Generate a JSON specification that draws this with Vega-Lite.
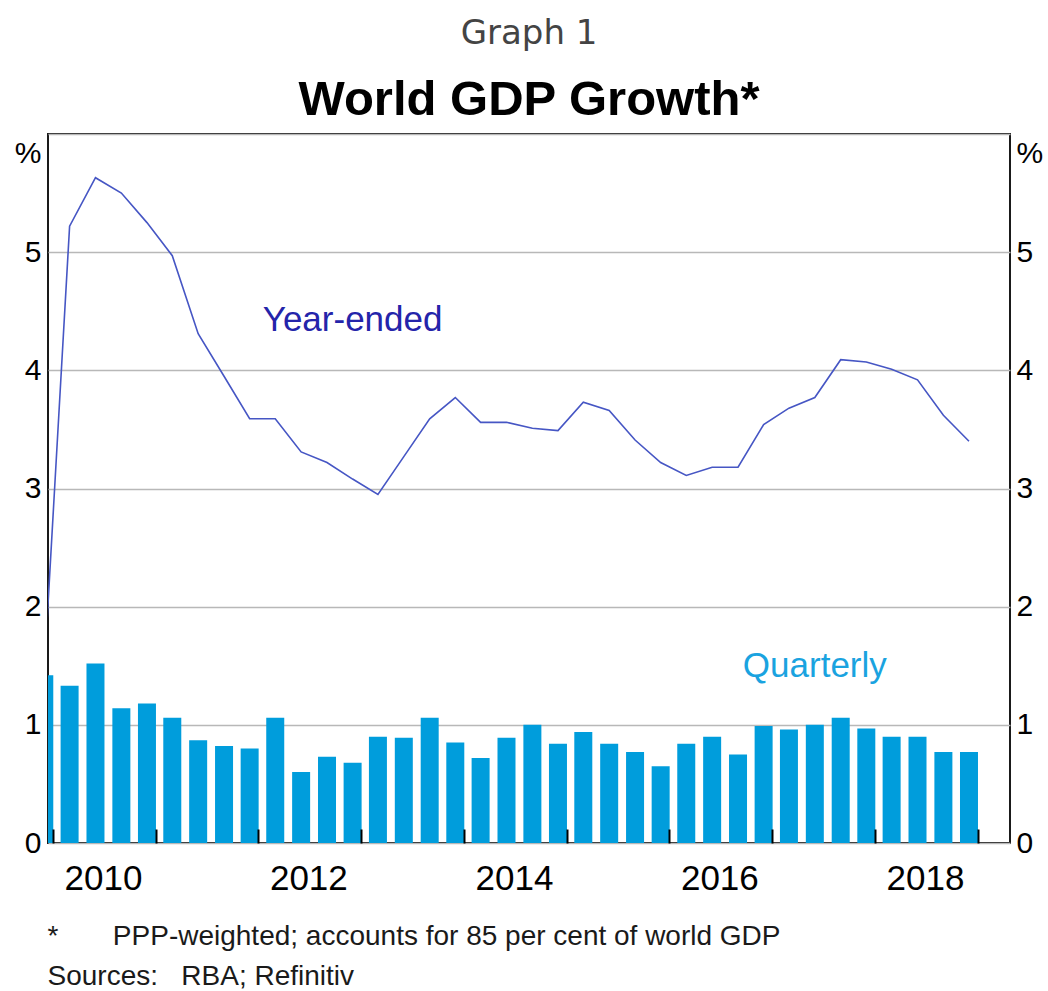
{
  "$schema": "https://vega.github.io/schema/vega-lite/v6.json",
  "width": 962,
  "height": 709,
  "autosize": "none",
  "padding": {"left": 48, "top": 134, "right": 38, "bottom": 148},
  "background": "white",
  "title": {
    "text": "Graph 1",
    "subtitle": "World GDP Growth*",
    "anchor": "middle",
    "frame": "group",
    "font": "DejaVu Sans",
    "fontSize": 34,
    "fontWeight": "normal",
    "color": "#444444",
    "subtitleFont": "Liberation Sans",
    "subtitleFontSize": 49,
    "subtitleFontWeight": "bold",
    "subtitleColor": "#000000",
    "subtitlePadding": 25,
    "offset": 9
  },
  "config": {
    "view": {"stroke": "#1a1a1a", "strokeWidth": 2},
    "axis": {"labelFont": "Liberation Sans", "labelColor": "#000000", "titleFont": "Liberation Sans"}
  },
  "datasets": {
    "quarterly": [
      {"date": "2009-12-01", "growth": 1.42},
      {"date": "2010-03-01", "growth": 1.33},
      {"date": "2010-06-01", "growth": 1.52},
      {"date": "2010-09-01", "growth": 1.14},
      {"date": "2010-12-01", "growth": 1.18},
      {"date": "2011-03-01", "growth": 1.06},
      {"date": "2011-06-01", "growth": 0.87},
      {"date": "2011-09-01", "growth": 0.82},
      {"date": "2011-12-01", "growth": 0.80},
      {"date": "2012-03-01", "growth": 1.06},
      {"date": "2012-06-01", "growth": 0.60},
      {"date": "2012-09-01", "growth": 0.73},
      {"date": "2012-12-01", "growth": 0.68},
      {"date": "2013-03-01", "growth": 0.90},
      {"date": "2013-06-01", "growth": 0.89},
      {"date": "2013-09-01", "growth": 1.06},
      {"date": "2013-12-01", "growth": 0.85},
      {"date": "2014-03-01", "growth": 0.72},
      {"date": "2014-06-01", "growth": 0.89},
      {"date": "2014-09-01", "growth": 1.00},
      {"date": "2014-12-01", "growth": 0.84},
      {"date": "2015-03-01", "growth": 0.94},
      {"date": "2015-06-01", "growth": 0.84},
      {"date": "2015-09-01", "growth": 0.77},
      {"date": "2015-12-01", "growth": 0.65},
      {"date": "2016-03-01", "growth": 0.84},
      {"date": "2016-06-01", "growth": 0.90},
      {"date": "2016-09-01", "growth": 0.75},
      {"date": "2016-12-01", "growth": 0.99},
      {"date": "2017-03-01", "growth": 0.96},
      {"date": "2017-06-01", "growth": 1.00},
      {"date": "2017-09-01", "growth": 1.06},
      {"date": "2017-12-01", "growth": 0.97},
      {"date": "2018-03-01", "growth": 0.90},
      {"date": "2018-06-01", "growth": 0.90},
      {"date": "2018-09-01", "growth": 0.77},
      {"date": "2018-12-01", "growth": 0.77}
    ],
    "yearEnded": [
      {"date": "2009-12-01", "growth": 1.47},
      {"date": "2010-03-01", "growth": 5.22},
      {"date": "2010-06-01", "growth": 5.63},
      {"date": "2010-09-01", "growth": 5.50},
      {"date": "2010-12-01", "growth": 5.25},
      {"date": "2011-03-01", "growth": 4.97},
      {"date": "2011-06-01", "growth": 4.31},
      {"date": "2011-09-01", "growth": 3.95},
      {"date": "2011-12-01", "growth": 3.59},
      {"date": "2012-03-01", "growth": 3.59},
      {"date": "2012-06-01", "growth": 3.31},
      {"date": "2012-09-01", "growth": 3.22},
      {"date": "2012-12-01", "growth": 3.08},
      {"date": "2013-03-01", "growth": 2.95},
      {"date": "2013-06-01", "growth": 3.27},
      {"date": "2013-09-01", "growth": 3.59},
      {"date": "2013-12-01", "growth": 3.77},
      {"date": "2014-03-01", "growth": 3.56},
      {"date": "2014-06-01", "growth": 3.56},
      {"date": "2014-09-01", "growth": 3.51},
      {"date": "2014-12-01", "growth": 3.49},
      {"date": "2015-03-01", "growth": 3.73},
      {"date": "2015-06-01", "growth": 3.66},
      {"date": "2015-09-01", "growth": 3.41},
      {"date": "2015-12-01", "growth": 3.22},
      {"date": "2016-03-01", "growth": 3.11},
      {"date": "2016-06-01", "growth": 3.18},
      {"date": "2016-09-01", "growth": 3.18},
      {"date": "2016-12-01", "growth": 3.54},
      {"date": "2017-03-01", "growth": 3.68},
      {"date": "2017-06-01", "growth": 3.77},
      {"date": "2017-09-01", "growth": 4.09},
      {"date": "2017-12-01", "growth": 4.07},
      {"date": "2018-03-01", "growth": 4.01},
      {"date": "2018-06-01", "growth": 3.92},
      {"date": "2018-09-01", "growth": 3.62},
      {"date": "2018-12-01", "growth": 3.40}
    ],
    "labels": [
      {"date": "2012-12-01", "value": 4.43, "label": "Year-ended"},
      {"date": "2017-06-01", "value": 1.50, "label": "Quarterly"}
    ]
  },
  "layer": [
    {
      "data": {"name": "quarterly"},
      "mark": {"type": "bar", "size": 18, "color": "#009ddc", "clip": true},
      "encoding": {
        "x": {
          "field": "date",
          "type": "temporal",
          "scale": {
            "type": "utc",
            "domain": [1262304000000, 1554681600000]
          },
          "axis": {
            "orient": "bottom",
            "zindex": 1,
            "domain": false,
            "grid": false,
            "values": [1262304000000, 1293840000000, 1325376000000, 1356998400000, 1388534400000, 1420070400000, 1451606400000, 1483228800000, 1514764800000, 1546300800000],
            "labelExpr": "utcyear(datum.value) % 2 == 0 && utcyear(datum.value) < 2019 ? '' + utcyear(datum.value) : ''",
            "labelOffset": 50,
            "labelFontSize": 35,
            "labelFlush": false,
            "labelOverlap": false,
            "labelPadding": 32,
            "tickSize": -14,
            "tickColor": "#000000",
            "tickWidth": 2,
            "title": null
          }
        },
        "y": {
          "field": "growth",
          "type": "quantitative",
          "scale": {"domain": [0, 6], "nice": false, "zero": true},
          "axis": {
            "orient": "left",
            "title": null,
            "values": [0, 1, 2, 3, 4, 5, 6],
            "labelExpr": "datum.value == 6 ? '%' : datum.label",
            "labelOffset": {"condition": {"test": "datum.value == 6", "value": 19}, "value": 0},
            "labelFontSize": 30,
            "labelPadding": 7,
            "ticks": false,
            "tickSize": 0,
            "domain": false,
            "grid": true,
            "gridColor": "#b8b8b8",
            "gridWidth": 1.5
          }
        }
      }
    },
    {
      "data": {"name": "yearEnded"},
      "mark": {"type": "line", "color": "#4656c4", "strokeWidth": 1.6, "clip": true},
      "encoding": {
        "x": {
          "field": "date",
          "type": "temporal",
          "axis": {
            "orient": "bottom",
            "domain": false,
            "grid": false,
            "labels": false,
            "ticks": false,
            "title": [
              "*\u00a0\u00a0\u00a0\u00a0\u00a0\u00a0\u00a0PPP-weighted; accounts for 85 per cent of world GDP",
              "Sources:\u00a0\u00a0\u00a0RBA; Refinitiv"
            ],
            "titleFont": "Liberation Sans",
            "titleFontSize": 28,
            "titleFontWeight": "normal",
            "titleColor": "#1a1a1a",
            "titleAnchor": "start",
            "titleAlign": "left",
            "titleBaseline": "top",
            "titleX": -1,
            "titleY": 79,
            "titleLineHeight": 40
          }
        },
        "y": {
          "field": "growth",
          "type": "quantitative",
          "axis": {
            "orient": "right",
            "title": null,
            "values": [0, 1, 2, 3, 4, 5, 6],
            "labelExpr": "datum.value == 6 ? '%' : datum.label",
            "labelOffset": {"condition": {"test": "datum.value == 6", "value": 19}, "value": 0},
            "labelFontSize": 30,
            "labelPadding": 6,
            "ticks": false,
            "tickSize": 0,
            "domain": false,
            "grid": false
          }
        }
      }
    },
    {
      "data": {"name": "labels"},
      "mark": {"type": "text", "font": "Liberation Sans", "fontSize": 35, "align": "center", "baseline": "middle"},
      "encoding": {
        "x": {"field": "date", "type": "temporal", "axis": null},
        "y": {"field": "value", "type": "quantitative", "axis": null},
        "text": {"field": "label"},
        "color": {
          "field": "label",
          "type": "nominal",
          "scale": {"domain": ["Year-ended", "Quarterly"], "range": ["#2424aa", "#1aa3e0"]},
          "legend": null
        }
      }
    }
  ],
  "resolve": {"axis": {"x": "independent", "y": "independent"}}
}
